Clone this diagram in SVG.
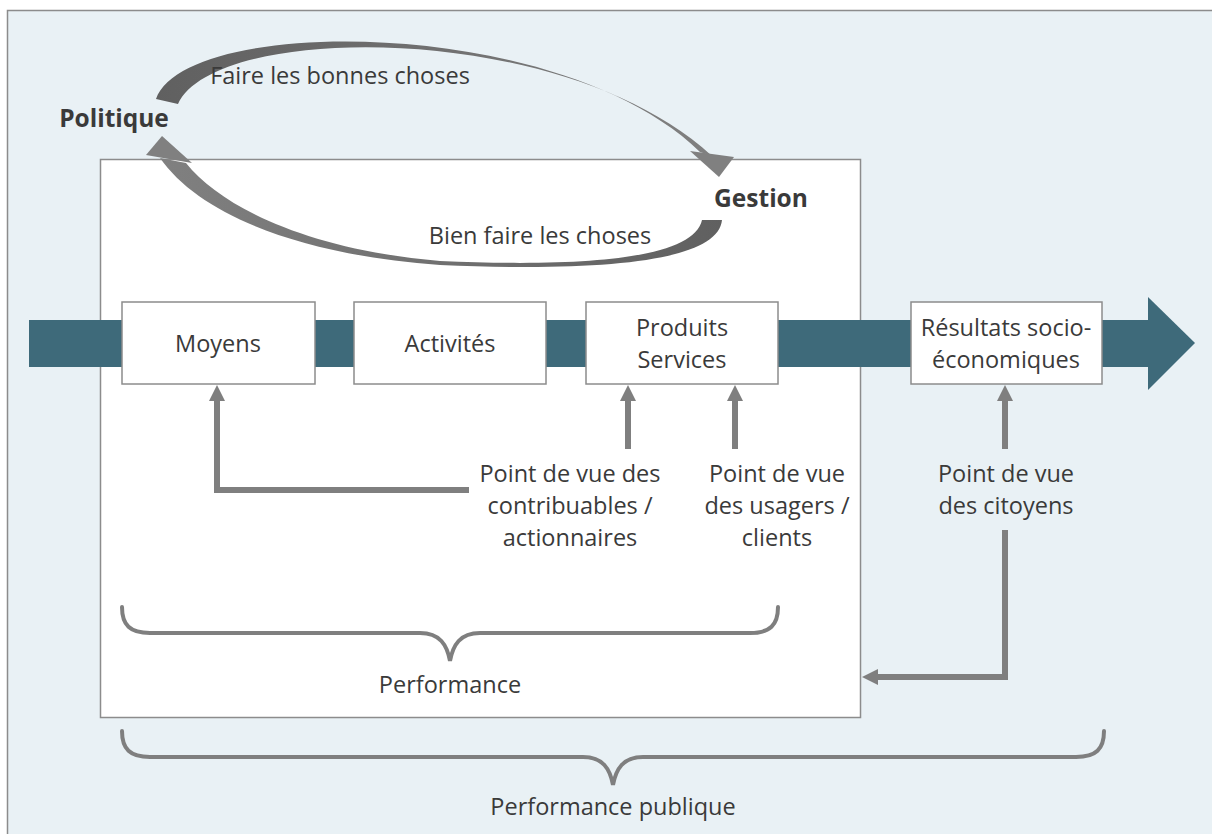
<svg xmlns="http://www.w3.org/2000/svg" width="1212" height="834" viewBox="0 0 1212 834">
<defs>
<style>
text{font-family:"Open Sans","Noto Sans",sans-serif;fill:#3a3a3a;font-size:23.5px;text-anchor:middle}
.b{font-weight:bold;font-size:24.5px}
.box{fill:#fff;stroke:#8c8c8c;stroke-width:1.5}
.ln{fill:none;stroke:#7f7f7f;stroke-width:6}
.br{fill:none;stroke:#7f7f7f;stroke-width:4;stroke-linecap:round}
.ar{fill:#7f7f7f}
</style>
<linearGradient id="g1" x1="0" y1="0" x2="1" y2="0"><stop offset="0" stop-color="#606060"/><stop offset="1" stop-color="#808080"/></linearGradient>
<linearGradient id="g2" x1="0" y1="0" x2="1" y2="0"><stop offset="0" stop-color="#808080"/><stop offset="1" stop-color="#606060"/></linearGradient>
</defs>
<rect x="0" y="0" width="1212" height="834" fill="#fff"/>
<rect x="7.5" y="10.5" width="1230" height="840" fill="#e9f1f5" stroke="#8c8c8c" stroke-width="1.5"/>
<rect id="frame" x="100.5" y="159.5" width="760" height="558" fill="#fff" stroke="#8c8c8c" stroke-width="1.5"/>
<g id="band">
<rect x="29" y="320" width="1121" height="47" fill="#3e6a7a"/>
<polygon points="1148,297 1195,343 1148,390" fill="#3e6a7a"/>
</g>
<g id="cycle">
<path d="M156,99 C185,15 560,15 700,152 L712,156 C565,20 215,22 178,104 Z" fill="url(#g1)"/>
<polygon points="690,151 734,157 719,177" fill="#808080"/>
<path d="M722,220 C718,262 600,272 440,265 C300,255 200,215 160,158 L186,163 C222,208 310,250 440,261 C600,268 694,256 702,220 Z" fill="url(#g2)"/>
<polygon points="162,136 146,155 192,163" fill="#808080"/>
</g>
<g id="politique"><text class="b" x="114" y="127">Politique</text></g>
<g id="gestion"><text class="b" x="761" y="207">Gestion</text></g>
<text x="340" y="84">Faire les bonnes choses</text>
<text x="540" y="244">Bien faire les choses</text>
<g id="moyens"><rect class="box" x="122" y="302" width="193" height="82"/><text x="218" y="352">Moyens</text></g>
<g id="activites"><rect class="box" x="354" y="302" width="192" height="82"/><text x="450" y="352">Activités</text></g>
<g id="produits"><rect class="box" x="586" y="302" width="192" height="82"/><text x="682" y="336">Produits</text><text x="682" y="368">Services</text></g>
<g id="resultats"><rect class="box" x="911" y="302" width="191" height="82"/><text x="1006" y="336">Résultats socio-</text><text x="1006" y="368">économiques</text></g>
<g id="connectors">
<path class="ln" d="M469,490 H217 V398"/><polygon class="ar" points="217,385 209,401 225,401"/>
<path class="ln" d="M628,449 V398"/><polygon class="ar" points="628,385 620,401 636,401"/>
<path class="ln" d="M735,449 V398"/><polygon class="ar" points="735,385 727,401 743,401"/>
<path class="ln" d="M1005,449 V398"/><polygon class="ar" points="1005,385 997,401 1013,401"/>
<path class="ln" d="M1005,530 V677 H876"/><polygon class="ar" points="862,677 878,669 878,685"/>
</g>
<g id="pv1"><text x="570" y="482">Point de vue des</text><text x="570" y="514">contribuables /</text><text x="570" y="546">actionnaires</text></g>
<g id="pv2"><text x="777" y="482">Point de vue</text><text x="777" y="514">des usagers /</text><text x="777" y="546">clients</text></g>
<g id="pv3"><text x="1006" y="482">Point de vue</text><text x="1006" y="514">des citoyens</text></g>
<g id="brace1"><path class="br" d="M122,607 C122,625 130,633 150,633 H420 C440,633 447,645 450,661 C453,645 460,633 480,633 H750 C770,633 778,625 778,607"/><text x="450" y="693">Performance</text></g>
<g id="brace2"><path class="br" d="M122,731 C122,749 130,757 150,757 H583 C603,757 610,769 613,785 C616,769 623,757 643,757 H1076 C1096,757 1104,749 1104,731"/><text x="613" y="815">Performance publique</text></g>
</svg>
